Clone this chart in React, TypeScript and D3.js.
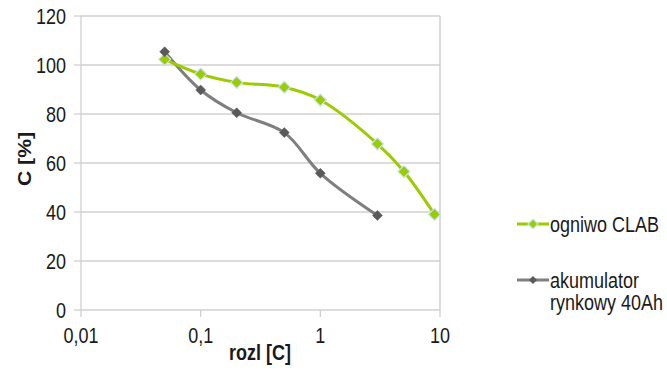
import React from "react";
import * as d3 from "d3";

const clabX = [0.05, 0.1, 0.2, 0.5, 1, 3, 5, 9];
const clabY = [102.3, 96.3, 92.9, 90.9, 85.7, 67.8, 56.5, 39];
const akuX = [0.05, 0.1, 0.2, 0.5, 1, 3];
const akuY = [105.4, 89.8, 80.5, 72.4, 55.8, 38.6];
const xTicks = [0.01, 0.1, 1, 10];
const xTickLabels = ["0,01", "0,1", "1", "10"];
const yTicks = [0, 20, 40, 60, 80, 100, 120];

const font = "'Liberation Sans', Arial, sans-serif";
const SY = 1.18;

function T(props: { x: number; y: number; anchor?: string; bold?: boolean; children: React.ReactNode }) {
  return (
    <text
      transform={`translate(${props.x},${props.y}) scale(1,${SY})`}
      textAnchor={props.anchor || "start"}
      fontSize={18}
      fontWeight={props.bold ? "bold" : "normal"}
      fill="#1a1a1a"
    >
      {props.children}
    </text>
  );
}

export default function App() {
  const W = 667, H = 380;
  const left = 81, right = 440, top = 16, bottom = 310;
  const x = d3.scaleLog().domain([0.01, 10]).range([left, right]);
  const y = d3.scaleLinear().domain([0, 120]).range([bottom, top]);
  const line = d3.line<[number, number]>()
    .x((d) => x(d[0]))
    .y((d) => y(d[1]))
    .curve(d3.curveCatmullRom.alpha(0.5));
  const clab: [number, number][] = clabX.map((v, i) => [v, clabY[i]]);
  const aku: [number, number][] = akuX.map((v, i) => [v, akuY[i]]);
  const green = "#9bcb00";
  const gray = "#7f7f7f";
  const diamond = (cx: number, cy: number, r: number) =>
    `M${cx},${cy - r}L${cx + r},${cy}L${cx},${cy + r}L${cx - r},${cy}Z`;

  return (
    <svg width={W} height={H} style={{ position: "absolute", left: 0, top: 0, background: "#fff" }} fontFamily={font}>
      {yTicks.map((t) => (
        <g key={t}>
          {t > 0 && <line x1={left} x2={right} y1={y(t)} y2={y(t)} stroke="#d0d0d0" strokeWidth={1.3} />}
          <line x1={left - 7} x2={left} y1={y(t)} y2={y(t)} stroke="#d0d0d0" strokeWidth={1.3} />
          <T x={66} y={y(t) + 7.6} anchor="end">{t}</T>
        </g>
      ))}
      <line x1={right} x2={right} y1={top} y2={bottom} stroke="#c8c8c8" strokeWidth={1.3} />
      <line x1={left} x2={left} y1={top} y2={bottom} stroke="#d0d0d0" strokeWidth={1.3} />
      <line x1={left} x2={right} y1={bottom} y2={bottom} stroke="#d0d0d0" strokeWidth={1.3} />
      {xTicks.map((t, i) => (
        <g key={t}>
          <line x1={x(t)} x2={x(t)} y1={bottom} y2={bottom + 7} stroke="#d0d0d0" strokeWidth={1.3} />
          <T x={x(t)} y={343} anchor="middle">{xTickLabels[i]}</T>
        </g>
      ))}
      <T x={260} y={360} anchor="middle" bold>rozl [C]</T>
      <text transform={`translate(31,159) rotate(-90) scale(${SY},1)`} textAnchor="middle" fontSize={18} fontWeight="bold" fill="#1a1a1a">C [%]</text>

      <path d={line(aku) || ""} fill="none" stroke={gray} strokeWidth={3} />
      <path d={line(clab) || ""} fill="none" stroke={green} strokeWidth={3} />
      {clab.map((d, i) => (
        <path key={"c" + i} d={diamond(x(d[0]), y(d[1]), 6)} fill={green} stroke="#c4e6f0" strokeWidth={1.2} />
      ))}
      {aku.map((d, i) => (
        <path key={"a" + i} d={diamond(x(d[0]), y(d[1]), 5)} fill="#5a5a5a" stroke="#5a5a5a" strokeWidth={0.5} />
      ))}

      <line x1={517} x2={549} y1={224} y2={224} stroke={green} strokeWidth={3} />
      <path d={diamond(533, 224, 5)} fill={green} stroke="#c4e6f0" strokeWidth={1.2} />
      <T x={550} y={231.5}>ogniwo CLAB</T>

      <line x1={517} x2={549} y1={280} y2={280} stroke={gray} strokeWidth={3} />
      <path d={diamond(533, 280, 4)} fill="#5a5a5a" />
      <T x={550} y={287.5}>akumulator</T>
      <T x={550} y={309.5}>rynkowy 40Ah</T>
    </svg>
  );
}
